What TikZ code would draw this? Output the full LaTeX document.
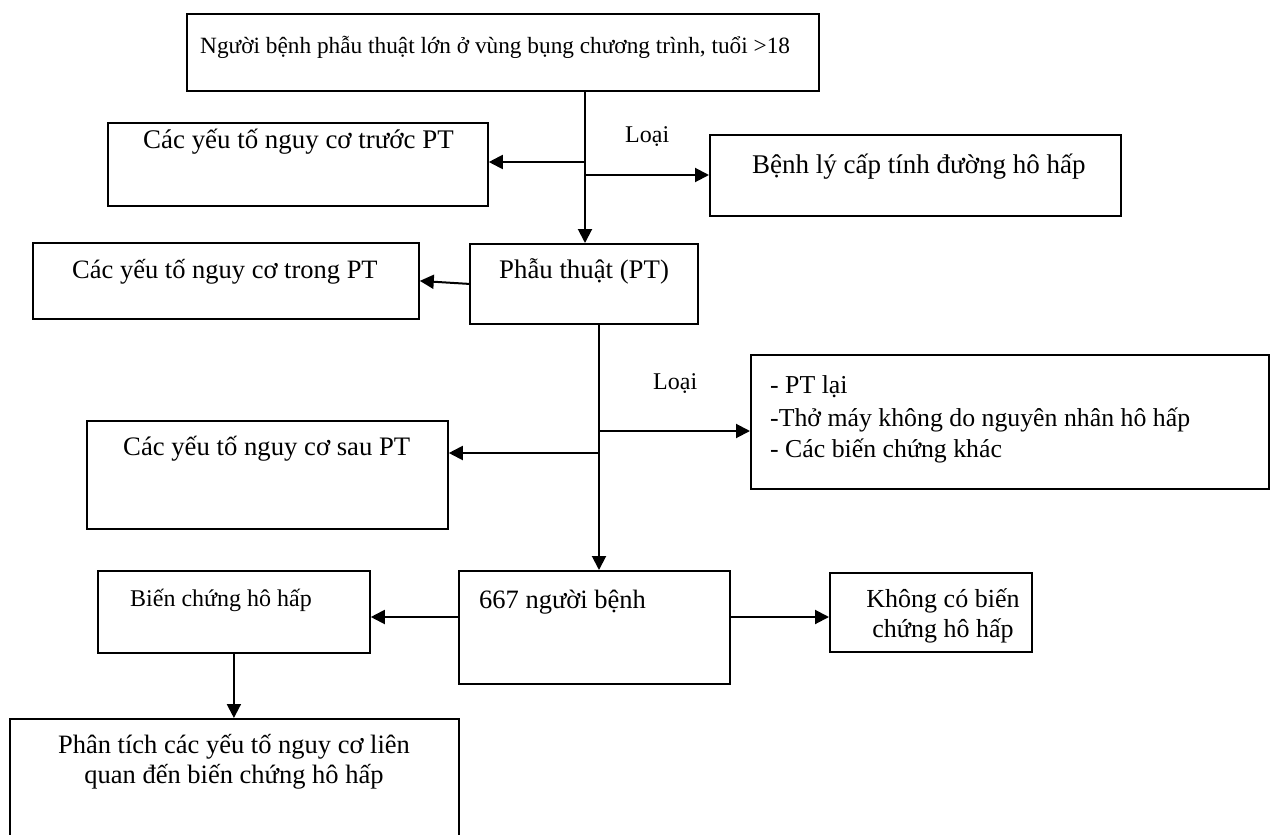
\documentclass[tikz,border=0pt]{standalone}
\usepackage{fontspec}
\setmainfont{Liberation Serif}
\usetikzlibrary{arrows.meta}
\newcommand\fsz[1]{\fontsize{#1}{#1}\selectfont}
\begin{document}
\begin{tikzpicture}[x=1pt,y=-1pt,
  box/.style={draw,line width=1.8pt,inner sep=0pt,anchor=north west},
  txt/.style={inner sep=0pt,anchor=base west,font=\fsz{26.5}},
  ctxt/.style={inner sep=0pt,anchor=base,font=\fsz{26.5}},
  arr/.style={line width=2pt,-{Triangle[length=14pt,width=14pt]}}]
\useasboundingbox (0,0) rectangle (1270,835);
\clip (0,0) rectangle (1270,835);

% boxes
\node[box,minimum width=632pt,minimum height=77pt] (b1) at (186,13) {};
\node[box,minimum width=380pt,minimum height=83pt] (b2) at (107,122) {};
\node[box,minimum width=411pt,minimum height=81pt] (b3) at (709,134) {};
\node[box,minimum width=228pt,minimum height=80pt] (b4) at (469,243) {};
\node[box,minimum width=386pt,minimum height=76pt] (b5) at (32,242) {};
\node[box,minimum width=518pt,minimum height=134pt] (b6) at (750,354) {};
\node[box,minimum width=361pt,minimum height=108pt] (b7) at (86,420) {};
\node[box,minimum width=271pt,minimum height=113pt] (b8) at (458,570) {};
\node[box,minimum width=272pt,minimum height=82pt] (b9) at (97,570) {};
\node[box,minimum width=202pt,minimum height=79pt] (b10) at (829,572) {};
\node[box,minimum width=449pt,minimum height=140pt] (b11) at (9,718) {};

% texts
\node[txt,font=\fsz{23.3}] (l1) at (200,53) {Người bệnh phẫu thuật lớn ở vùng bụng chương trình, tuổi >18};
\node[txt,font=\fsz{26.9}] (l2) at (143,148) {Các yếu tố nguy cơ trước PT};
\node[txt,font=\fsz{27}] (l3) at (752,173) {Bệnh lý cấp tính đường hô hấp};
\node[txt,font=\fsz{26.8}] (l4) at (499,278) {Phẫu thuật (PT)};
\node[txt] (l5) at (72,278) {Các yếu tố nguy cơ trong PT};
\node[txt,font=\fsz{25.8}] (l6a) at (770,393) {- PT lại};
\node[txt,font=\fsz{25.8}] (l6b) at (770,426) {-Thở máy không do nguyên nhân hô hấp};
\node[txt,font=\fsz{25.8}] (l6c) at (770,457) {- Các biến chứng khác};
\node[txt,font=\fsz{26.7}] (l7) at (123,455) {Các yếu tố nguy cơ sau PT};
\node[txt] (l8) at (479,608) {667 người bệnh};
\node[txt,font=\fsz{24}] (l9) at (130,606) {Biến chứng hô hấp};
\node[ctxt,font=\fsz{26}] (l10a) at (943,607) {Không có biến};
\node[ctxt,font=\fsz{26}] (l10b) at (943,637) {chứng hô hấp};
\node[ctxt] (l11a) at (234,753) {Phân tích các yếu tố nguy cơ liên};
\node[ctxt] (l11b) at (234,783) {quan đến biến chứng hô hấp};
\node[txt,font=\fsz{24}] (ex1) at (625,142) {Loại};
\node[txt,font=\fsz{24}] (ex2) at (653,389) {Loại};

% branch points
\coordinate (t1) at (585,162);
\coordinate (t2) at (585,175);
\coordinate (t3) at (599,431);
\coordinate (t4) at (599,453);
\coordinate (t5) at (458,617);

% connectors
\draw[arr] (b1.south -| t1) -- (b4.north -| t1);
\draw[arr] (t1) -- (t1 -| b2.east);
\draw[arr] (t2) -- (t2 -| b3.west);
\draw[arr] (b4.west) -- (b5.east);
\draw[arr] (b4.south -| t3) -- (b8.north -| t3);
\draw[arr] (t3) -- (t3 -| b6.west);
\draw[arr] (t4) -- (t4 -| b7.east);
\draw[arr] (t5 -| b8.west) -- (t5 -| b9.east);
\draw[arr] (t5 -| b8.east) -- (t5 -| b10.west);
\draw[arr] (b9.south) -- (b9.south |- b11.north);
\end{tikzpicture}
\end{document}
